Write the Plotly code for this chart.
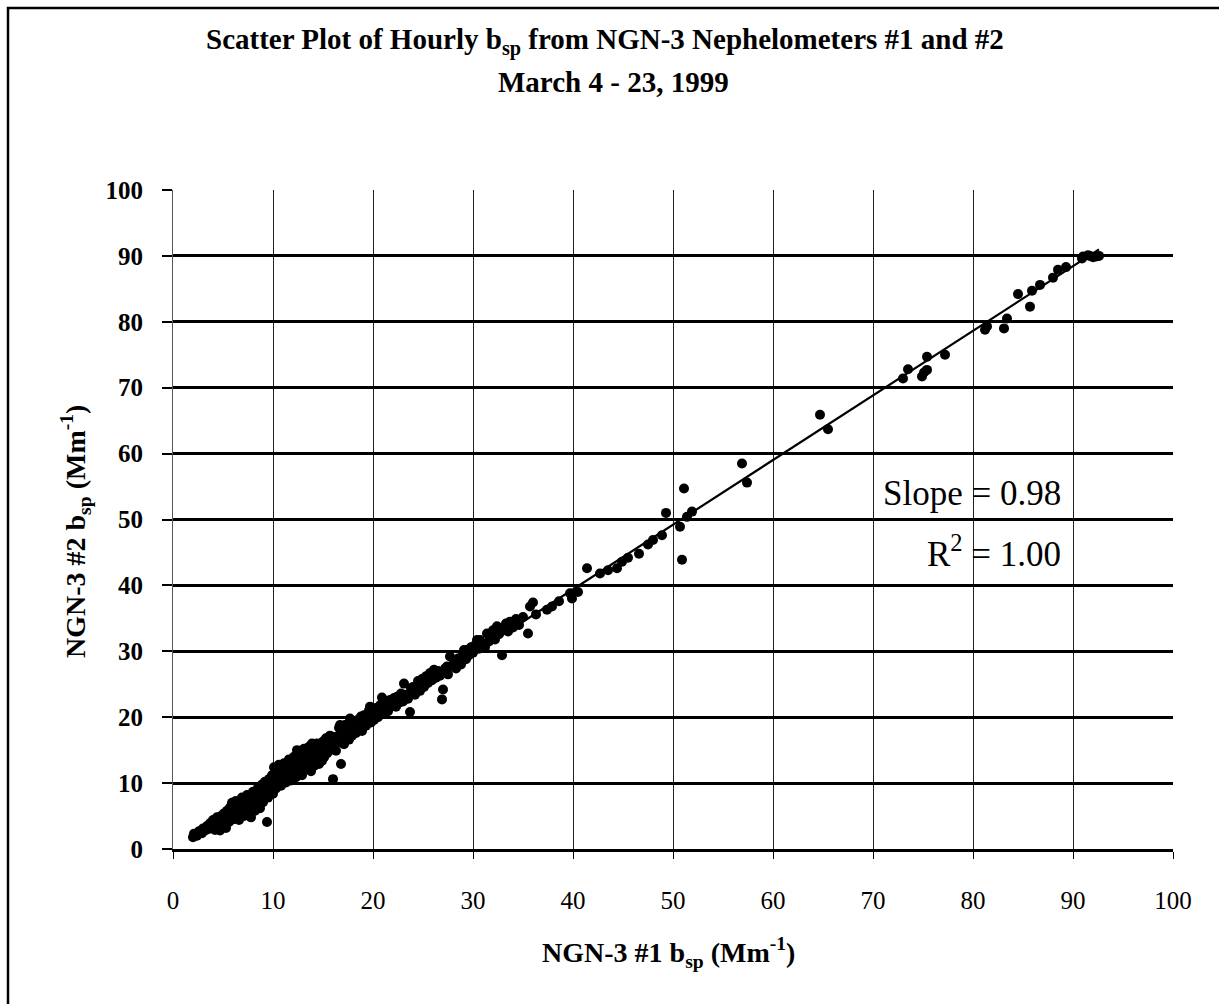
import numpy as np
import plotly.graph_objects as go

# ---- data (NGN-3 #1 vs NGN-3 #2 hourly bsp, Mm^-1) ----
neph1_bsp = [
    2.0, 2.1, 2.4, 2.6, 2.9, 3.0, 3.2, 3.4, 3.5, 3.7, 3.8, 4.0, 4.1, 4.2, 4.3, 4.4, 4.5, 4.6, 4.7, 4.8,
    4.9, 5.0, 5.1, 5.2, 5.3, 5.4, 5.5, 5.6, 5.7, 5.8, 5.9, 6.0, 6.0,
    6.1, 6.2, 6.3, 6.4, 6.5, 6.6, 6.7, 6.8, 6.9, 7.0, 7.1, 7.2, 7.3, 7.4, 7.5, 7.6, 7.7, 7.8, 7.9, 8.0,
    8.1, 8.2, 8.3, 8.4, 8.5, 8.6, 8.7, 8.8, 8.9, 9.0, 9.1, 9.2, 9.3, 9.4, 9.5, 9.6, 9.7, 9.8, 9.9, 10.0, 10.0,
    10.1, 10.2, 10.3, 10.4, 10.5, 10.6, 10.7, 10.8, 10.9, 11.0, 11.1, 11.2, 11.3, 11.4, 11.5, 11.6, 11.7,
    11.8, 11.9, 12.0, 12.1, 12.2, 12.3, 12.4, 12.5, 12.6, 12.7, 12.8, 12.9, 13.0, 13.1, 13.2, 13.3, 13.4,
    13.5, 13.6, 13.7, 13.8, 13.9, 14.0, 14.1, 14.2, 14.3, 14.4, 14.5, 14.6, 14.7, 14.8, 14.9, 15.0, 15.0,
    15.1, 15.2, 15.3, 15.4, 15.5, 15.6, 15.7, 15.8, 15.9, 16.0, 16.1, 16.2, 16.3, 16.4, 16.5, 16.6, 16.7,
    16.8, 16.9, 17.0, 17.1, 17.2, 17.3, 17.4, 17.5, 17.6, 17.7, 17.8, 17.9, 18.0, 18.2, 18.3, 18.5, 18.6,
    18.8, 18.9, 19.0, 19.1, 19.3, 19.5, 19.6, 19.7, 19.8, 20.0, 20.1,
    20.3, 20.5, 20.7, 20.9, 21.0, 21.2, 21.4, 21.5, 21.7, 21.9, 22.1, 22.3, 22.4, 22.6, 22.8, 23.0, 23.1,
    23.3, 23.5, 23.7, 23.8, 24.0, 24.2, 24.4, 24.5, 24.7, 24.9, 25.1, 25.3, 25.5, 25.7, 25.9, 26.1, 26.3,
    26.5, 26.7, 26.9, 27.0, 27.2, 27.4, 27.5, 27.7, 27.9, 28.1, 28.3, 28.5, 28.8, 29.0, 29.1, 29.3, 29.4,
    29.6, 29.8,
    30.0, 30.2, 30.4, 30.6, 30.7, 31.0, 31.2, 31.4, 31.6, 31.9, 32.0, 32.2, 32.4, 32.6, 32.9, 33.1, 33.3,
    33.5, 33.7, 34.0, 34.3, 34.6, 35.0, 35.5, 35.7, 36.0, 36.3, 37.4, 37.9, 38.6, 39.7, 39.9, 40.5,
    41.4, 42.7, 43.5, 44.4, 44.9, 45.5, 46.6, 47.5, 48.0, 48.9, 49.3, 50.7, 50.9, 51.1, 51.4, 51.9,
    56.9, 57.4,
    64.7, 65.5, 73.0, 73.5, 74.9, 75.1, 75.4, 75.4, 77.2, 81.2, 81.4, 83.1, 83.4, 84.5, 85.7, 85.9,
    86.7, 88.0, 88.5, 89.3, 90.9, 91.0, 91.5, 91.7, 92.0, 92.3, 92.6,
]
neph2_bsp = [
    1.8, 2.3, 2.0, 2.7, 2.4, 3.1, 2.8, 3.5, 3.0, 3.9, 3.3, 4.4, 3.6, 2.9, 4.0, 4.8, 3.4, 4.2, 2.8, 5.0,
    4.4, 3.8, 5.4, 4.6, 3.2, 5.8, 4.9, 4.1, 6.3, 5.2, 7.0, 4.5, 5.9,
    6.6, 5.0, 7.3, 5.6, 6.2, 4.4, 7.0, 5.5, 7.8, 6.4, 5.0, 7.2, 6.0, 8.2, 5.4, 6.8, 7.7, 4.8, 6.3, 8.7,
    7.3, 5.8, 8.0, 6.8, 9.3, 7.5, 6.2, 8.6, 9.8, 7.1, 8.3, 10.2, 9.0, 4.1, 7.8, 10.6, 9.4, 8.6, 11.2, 9.9, 8.4,
    12.4, 10.6, 9.2, 11.5, 10.0, 12.8, 11.0, 9.6, 12.1, 10.5, 13.0, 11.4, 10.1, 12.4, 11.0, 13.6, 11.8,
    10.4, 12.7, 11.5, 14.0, 12.2, 10.9, 15.0, 13.2, 11.6, 14.2, 12.6, 11.2, 13.8, 15.2, 12.1, 14.5, 14.0,
    12.8, 15.5, 13.4, 11.8, 16.0, 14.3, 12.6, 15.4, 13.5, 16.0, 14.8, 12.9, 15.9, 14.2, 13.4, 16.3, 15.0,
    13.9, 15.6, 16.8, 14.5, 15.9, 14.9, 17.2, 15.3, 16.4, 10.6, 15.8, 17.0, 14.9, 17.0, 16.2, 18.4, 18.8,
    12.9, 16.5, 17.6, 15.9, 18.8, 16.9, 17.9, 19.0, 16.6, 19.8, 18.0, 17.2, 19.2, 18.5, 17.6, 19.6, 18.2,
    20.1, 17.9, 19.0, 20.3, 18.7, 19.8, 21.0, 21.6, 19.2, 20.5, 19.6,
    21.4, 20.0, 21.8, 23.0, 20.6, 21.5, 22.4, 20.9, 22.6, 21.7, 22.9, 21.6, 23.1, 22.2, 23.6, 22.4, 25.1,
    23.4, 22.8, 20.8, 24.3, 24.6, 23.4, 24.6, 25.5, 24.0, 25.8, 24.6, 26.2, 25.2, 26.7, 25.6, 27.2, 26.0,
    27.0, 26.3, 22.7, 24.2, 27.4, 27.7, 26.5, 29.2, 27.8, 28.6, 27.4, 28.9, 28.0, 29.6, 30.2, 28.8, 30.2,
    29.4, 30.6,
    29.8, 30.9, 31.7, 30.4, 31.7, 31.2, 30.6, 32.7, 31.5, 32.3, 33.2, 31.8, 33.8, 32.6, 29.4, 33.4, 34.2,
    33.0, 34.5, 33.6, 34.9, 34.0, 35.2, 32.7, 36.8, 37.4, 35.6, 36.3, 36.8, 37.6, 38.8, 38.0, 39.0,
    42.6, 41.8, 42.3, 42.6, 43.6, 44.2, 44.8, 46.2, 46.9, 47.6, 51.0, 48.9, 43.9, 54.7, 50.4, 51.2,
    58.5, 55.6,
    65.9, 63.7, 71.4, 72.8, 71.7, 72.3, 72.7, 74.7, 75.0, 78.8, 79.3, 79.0, 80.5, 84.2, 82.3, 84.7,
    85.6, 86.7, 87.9, 88.3, 89.6, 89.9, 90.1, 90.0, 89.8, 89.9, 90.0,
]
tick_vals = [0, 10, 20, 30, 40, 50, 60, 70, 80, 90, 100]
title_line1 = "Scatter Plot of Hourly b<sub>sp</sub> from NGN-3 Nephelometers #1 and #2"
title_line2 = "March 4 - 23, 1999"
x_title = "NGN-3 #1 b<sub>sp</sub> (Mm<sup>-1</sup>)"
y_title = "NGN-3 #2 b<sub>sp</sub> (Mm<sup>-1</sup>)"
slope_text = "Slope = 0.98"
r2_text = "R<sup>2</sup> = 1.00"

# ---- linear trend line fitted to the data ----
xa = np.array(neph1_bsp)
ya = np.array(neph2_bsp)
m, b = np.polyfit(xa, ya, 1)
fit_x = [float(xa.min()), float(xa.max())]
fit_y = [m * v + b for v in fit_x]

SERIF = "Liberation Serif, Times New Roman, serif"

fig = go.Figure()
fig.add_trace(go.Scatter(
    x=neph1_bsp, y=neph2_bsp, mode="markers",
    marker=dict(color="black", size=10, line=dict(width=0)),
    showlegend=False, hoverinfo="x+y",
))
fig.add_trace(go.Scatter(
    x=fit_x, y=fit_y, mode="lines",
    line=dict(color="black", width=2.2),
    showlegend=False, hoverinfo="skip",
))

fig.update_layout(
    width=1219, height=1004,
    margin=dict(l=173, r=46, t=190, b=155),
    paper_bgcolor="white", plot_bgcolor="white",
    font=dict(family=SERIF, color="black"),
    showlegend=False,
)
fig.update_xaxes(
    range=[0, 100], tickvals=tick_vals, ticktext=[str(v) for v in tick_vals],
    showgrid=True, gridcolor="#222222", gridwidth=1,
    showline=True, linecolor="black", linewidth=2.5,
    ticks="outside", ticklen=7, tickcolor="black", tickwidth=1,
    ticklabelstandoff=20,
    tickfont=dict(family=SERIF, size=25, color="black"),
    zeroline=False,
)
fig.update_yaxes(
    range=[0, 100], tickvals=tick_vals, ticktext=["<b>%d</b>" % v for v in tick_vals],
    showgrid=True, gridcolor="black", gridwidth=2.5,
    showline=True, linecolor="#555555", linewidth=1,
    ticks="outside", ticklen=10, tickcolor="black", tickwidth=1.5,
    ticklabelstandoff=14,
    tickfont=dict(family=SERIF, size=25, color="black"),
    zeroline=False,
)

annotations = [
    dict(text="<b>" + title_line1 + "</b>", x=0.432, y=(849 - 41) / 659, xref="paper", yref="paper",
         xanchor="center", yanchor="middle", showarrow=False, font=dict(family=SERIF, size=29)),
    dict(text="<b>" + title_line2 + "</b>", x=0.44, y=(849 - 82) / 659, xref="paper", yref="paper",
         xanchor="center", yanchor="middle", showarrow=False, font=dict(family=SERIF, size=29)),
    dict(text="<b>" + x_title + "</b>", x=0.495, y=(849 - 952) / 659, xref="paper", yref="paper",
         xanchor="center", yanchor="middle", showarrow=False, font=dict(family=SERIF, size=28)),
    dict(text="<b>" + y_title + "</b>", x=(75 - 173) / 1000, y=(849 - 532) / 659, xref="paper", yref="paper",
         xanchor="center", yanchor="middle", textangle=-90, showarrow=False, font=dict(family=SERIF, size=28)),
    dict(text=slope_text, x=89.0, y=53.9, xref="x", yref="y",
         xanchor="right", yanchor="middle", showarrow=False, font=dict(family=SERIF, size=35)),
    dict(text=r2_text, x=89.0, y=45.2, xref="x", yref="y",
         xanchor="right", yanchor="middle", showarrow=False, font=dict(family=SERIF, size=35)),
]
fig.update_layout(annotations=annotations)

# outer chart frame (top and left edges visible in the scan)
fig.add_shape(type="rect", xref="paper", yref="paper",
              x0=(8 - 173) / 1000, x1=(1230 - 173) / 1000,
              y0=(849 - 1015) / 659, y1=(849 - 8) / 659,
              line=dict(color="black", width=2.5), layer="below")

fig.write_html("out.html")
